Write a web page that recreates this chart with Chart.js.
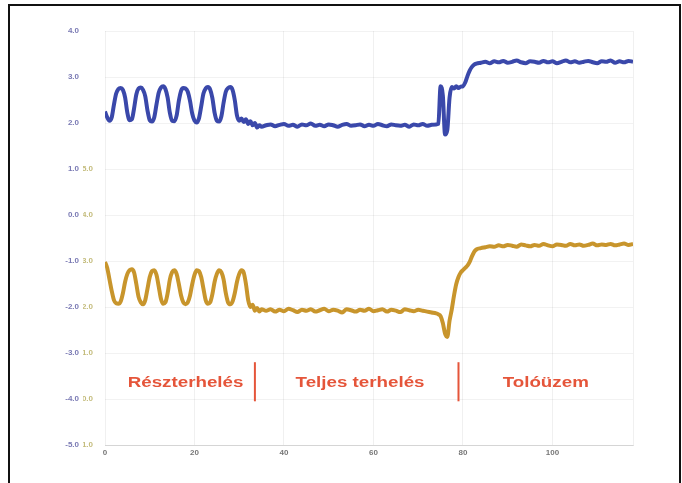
<!DOCTYPE html>
<html>
<head>
<meta charset="utf-8">
<script src="https://cdn.jsdelivr.net/npm/chart.js@4/dist/chart.umd.min.js"></script>
<style>
  body { margin: 0; background: #fff; }
  #keret { position: absolute; left: 8px; top: 4px; width: 669px; height: 500px; border: 2px solid #111; }
  #grafikon { position: absolute; left: 0; top: 0; }
</style>
</head>
<body>
<div id="keret"></div>
<canvas id="grafikon" width="682" height="483"></canvas>
<script>
// Idő (x tengely)
const ido = [
  0, 0.5, 1, 1.5, 2, 2.5, 3, 3.5, 4, 4.5,
  5, 5.5, 6, 6.5, 7, 7.5, 8, 8.5, 9, 9.5,
  10, 10.5, 11, 11.5, 12, 12.5, 13, 13.5, 14, 14.5,
  15, 15.5, 16, 16.5, 17, 17.5, 18, 18.5, 19, 19.5,
  20, 20.5, 21, 21.5, 22, 22.5, 23, 23.5, 24, 24.5,
  25, 25.5, 26, 26.5, 27, 27.5, 28, 28.5, 29, 29.5,
  30, 30.5, 31, 31.5, 32, 32.5, 33, 33.5, 34, 34.5,
  35,
  36, 37, 38, 39, 40, 41, 42, 43, 44, 45,
  46, 47, 48, 49, 50, 51, 52, 53, 54, 55,
  56, 57, 58, 59, 60, 61, 62, 63, 64, 65,
  66, 67, 68, 69, 70, 71, 72, 73, 74,
  74.5, 75, 75.5, 76, 76.5, 77, 77.5, 78, 78.5, 79,
  79.5, 80, 80.5, 81, 81.5, 82, 82.5, 83,
  84, 85, 86, 87, 88, 89, 90, 91, 92, 93,
  94, 95, 96, 97, 98, 99, 100, 101, 102, 103,
  104, 105, 106, 107, 108, 109, 110, 111, 112, 113,
  114, 115, 116, 117, 118
];

// Kék jel (bal skála)
const kek = [
  2.25, 2.12, 2.05, 2.12, 2.4, 2.64, 2.74, 2.76, 2.72, 2.55,
  2.22, 2.06, 2.08, 2.32, 2.62, 2.75, 2.77, 2.72, 2.58, 2.27,
  2.06, 2.03, 2.12, 2.4, 2.66, 2.77, 2.8, 2.74, 2.55, 2.22,
  2.05, 2.04, 2.16, 2.48, 2.7, 2.76, 2.75, 2.68, 2.48, 2.2,
  2.05, 2.01, 2.1, 2.36, 2.64, 2.75, 2.78, 2.73, 2.54, 2.22,
  2.05, 2.03, 2.14, 2.44, 2.68, 2.76, 2.78, 2.72, 2.5, 2.16,
  2.05, 2.1, 2.02, 2.08, 1.98, 2.04, 1.95, 2.0, 1.9, 1.95,
  1.92,
  1.95, 1.97, 1.93, 1.96, 1.98, 1.94, 1.96, 1.92, 1.97, 1.95,
  1.99, 1.94, 1.96, 1.93, 1.97, 1.95, 1.92, 1.96, 1.98, 1.94,
  1.95, 1.97, 1.93, 1.96, 1.94, 1.98, 1.95, 1.93, 1.97, 1.95,
  1.94, 1.96, 1.92, 1.97, 1.95, 1.98, 1.94, 1.96, 1.97,
  1.98, 2.8, 2.6, 1.75, 1.85, 2.55, 2.78, 2.75, 2.8, 2.76,
  2.79, 2.8, 2.88, 3.02, 3.14, 3.22, 3.27, 3.29,
  3.31, 3.33, 3.3, 3.34, 3.32, 3.35, 3.31, 3.33, 3.36, 3.32,
  3.3, 3.34, 3.33, 3.31, 3.35, 3.32, 3.34, 3.3, 3.33, 3.36,
  3.32, 3.34, 3.31, 3.33, 3.35, 3.32, 3.3, 3.34, 3.33, 3.36,
  3.31, 3.34, 3.32, 3.35, 3.33
];

// Sárga jel (belső skála)
const sarga = [
  2.98, 2.85, 2.6, 2.35, 2.15, 2.08, 2.07, 2.12, 2.3, 2.55,
  2.72, 2.8, 2.82, 2.75, 2.5, 2.22, 2.1, 2.06, 2.15, 2.4,
  2.65, 2.78, 2.8, 2.7, 2.45, 2.18, 2.07, 2.1, 2.3, 2.6,
  2.76, 2.8, 2.72, 2.5, 2.25, 2.1, 2.06, 2.1, 2.25, 2.5,
  2.7, 2.8, 2.78, 2.65, 2.4, 2.15, 2.07, 2.1, 2.28, 2.55,
  2.72, 2.8, 2.76, 2.6, 2.3, 2.1, 2.06, 2.12, 2.3, 2.55,
  2.72, 2.8, 2.75, 2.5, 2.15, 2.0, 2.05, 1.92, 1.98, 1.9,
  1.95,
  1.92, 1.95, 1.9, 1.94, 1.91, 1.96, 1.93, 1.89, 1.94, 1.92,
  1.95, 1.9, 1.93, 1.96, 1.91, 1.94, 1.92, 1.88, 1.95, 1.93,
  1.9, 1.94, 1.92, 1.96, 1.91, 1.93, 1.95, 1.9, 1.94, 1.92,
  1.89, 1.95, 1.93, 1.91, 1.94, 1.92, 1.9, 1.88, 1.86,
  1.84, 1.8, 1.65, 1.42, 1.35, 1.7, 1.95, 2.25, 2.5, 2.65,
  2.75, 2.8, 2.85, 2.9, 2.98, 3.1, 3.2, 3.25,
  3.28, 3.3, 3.32, 3.31, 3.34, 3.32, 3.35, 3.33, 3.31, 3.36,
  3.34, 3.32, 3.35, 3.33, 3.37, 3.34, 3.32, 3.36, 3.35, 3.33,
  3.37, 3.34, 3.36, 3.33, 3.35, 3.38, 3.34, 3.36, 3.35, 3.37,
  3.34, 3.36, 3.38, 3.35, 3.37
];

// Üzemállapotok
const szakaszok = ["Részterhelés", "Teljes terhelés", "Tolóüzem"];
const szakaszKozep = [18, 57, 98.5];
const hatarok = [33.5, 79];

const kekColor = "#3a48aa";
const sargaColor = "#c8952c";
const pirosColor = "#e5553a";

// Feliratok és elválasztó vonalak
const feliratok = {
  id: "feliratok",
  afterDatasetsDraw(chart) {
    const { ctx, scales: { x, y } } = chart;
    ctx.save();
    ctx.strokeStyle = pirosColor;
    ctx.lineWidth = 2;
    hatarok.forEach((h) => {
      const px = x.getPixelForValue(h);
      ctx.beginPath();
      ctx.moveTo(px, y.getPixelForValue(-3.2));
      ctx.lineTo(px, y.getPixelForValue(-4.05));
      ctx.stroke();
    });
    ctx.fillStyle = pirosColor;
    ctx.font = "bold 15px 'Liberation Sans', Arial, sans-serif";
    ctx.textAlign = "center";
    ctx.textBaseline = "middle";
    szakaszok.forEach((s, i) => {
      ctx.save();
      ctx.translate(x.getPixelForValue(szakaszKozep[i]), y.getPixelForValue(-3.65));
      ctx.scale(1.25, 1);
      ctx.fillText(s, 0, 0);
      ctx.restore();
    });
    ctx.restore();
  },
};

const tickFont = { family: "'Liberation Sans', Arial, sans-serif", size: 8, weight: "bold" };

let ctx1 = document.getElementById("grafikon").getContext("2d");
let graf = new Chart(ctx1, {
  type: "line",
  data: {
    datasets: [
      {
        label: "kék",
        data: ido.map((t, i) => ({ x: t, y: kek[i] })),
        yAxisID: "y",
        borderColor: kekColor,
        borderWidth: 4,
        pointRadius: 0,
        cubicInterpolationMode: "monotone",
      },
      {
        label: "sárga",
        data: ido.map((t, i) => ({ x: t, y: sarga[i] })),
        yAxisID: "y2",
        borderColor: sargaColor,
        borderWidth: 4,
        pointRadius: 0,
        cubicInterpolationMode: "monotone",
      },
    ],
  },
  options: {
    responsive: false,
    animation: false,
    layout: { padding: { left: 0, top: 31, right: 49, bottom: 18 } },
    plugins: {
      legend: { display: false },
      tooltip: { enabled: false },
    },
    scales: {
      x: {
        type: "linear",
        min: 0,
        max: 118,
        afterFit: (s) => { s.height = 20; },
        ticks: {
          stepSize: 20,
          color: "#777",
          font: tickFont,
          padding: 3,
          callback: (v) => (v % 20 === 0 && v <= 100 ? String(v) : ""),
        },
        grid: { color: "rgba(0,0,0,0.06)", drawTicks: false },
        border: { color: "rgba(0,0,0,0.12)" },
      },
      y: {
        position: "left",
        min: -5,
        max: 4,
        weight: 2,
        afterFit: (s) => { s.width = 83; },
        ticks: {
          stepSize: 1,
          color: "#7a7ab4",
          font: tickFont,
          padding: 4,
          callback: (v) => v.toFixed(1),
        },
        grid: { color: "rgba(0,0,0,0.05)", drawTicks: false },
        border: { display: false },
      },
      y2: {
        position: "left",
        min: -1,
        max: 8,
        weight: 1,
        afterFit: (s) => { s.width = 22; },
        ticks: {
          stepSize: 1,
          color: "#c4bc7c",
          font: tickFont,
          padding: 4,
          callback: (v) => (v <= 5 ? v.toFixed(1) : ""),
        },
        grid: { display: false },
        border: { display: false },
      },
    },
  },
  plugins: [feliratok],
});
</script>
</body>
</html>
